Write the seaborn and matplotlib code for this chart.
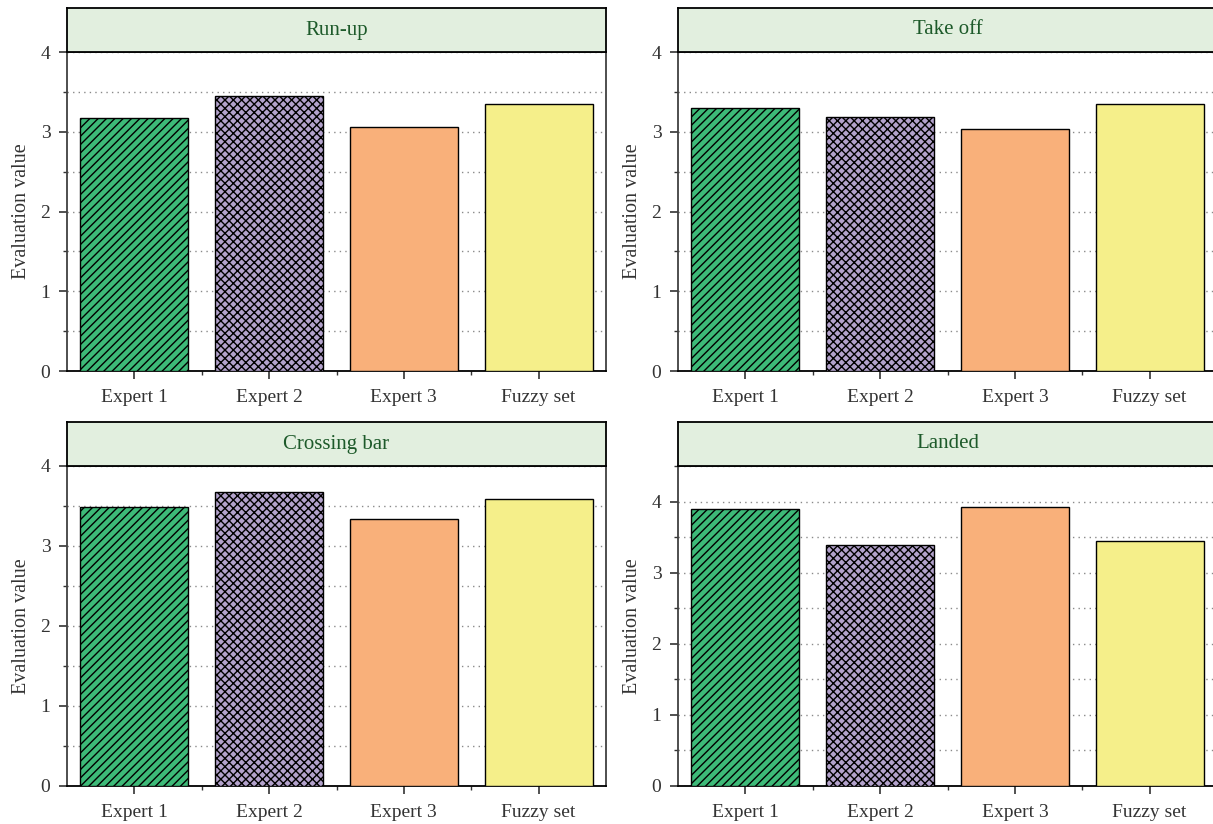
import matplotlib
matplotlib.use("Agg")
import matplotlib.pyplot as plt
from matplotlib.ticker import MultipleLocator, FixedLocator
import seaborn as sns
import pandas as pd

# Data
categories = ["Expert 1", "Expert 2", "Expert 3", "Fuzzy set"]
stage_titles = ["Run-up", "Take off", "Crossing bar", "Landed"]
run_up = [3.17, 3.45, 3.06, 3.35]
take_off = [3.30, 3.18, 3.03, 3.35]
crossing_bar = [3.49, 3.67, 3.34, 3.59]
landed = [3.89, 3.39, 3.93, 3.45]
y_limits = [4.0, 4.0, 4.0, 4.5]

palette = ["#3dba78", "#b3a2cc", "#f9b07a", "#f5ef8a"]
hatches = ["////", "xxxx", "", ""]

sns.set_theme(style="white")
plt.rcParams["font.family"] = ["Liberation Serif", "DejaVu Serif"]
plt.rcParams["hatch.linewidth"] = 1.0

W, H = 1213, 824
fig = plt.figure(figsize=(W / 100, H / 100), dpi=100)

# panel geometry in pixels: (left, header_top, axes_top, axes_bottom)
panels = [
    (67, 8, 52, 371),
    (678, 8, 52, 371),
    (67, 422, 466, 786),
    (678, 422, 466, 786),
]
panel_w = 539
series = [run_up, take_off, crossing_bar, landed]

for (left, htop, atop, abot), title, vals, ymax in zip(panels, stage_titles, series, y_limits):
    ax = fig.add_axes([left / W, 1 - abot / H, panel_w / W, (abot - atop) / H])
    df = pd.DataFrame({"category": categories, "value": vals})
    sns.barplot(data=df, x="category", y="value", hue="category", palette=palette,
                legend=False, width=0.8, edgecolor="black", linewidth=1.0,
                saturation=1, ax=ax, zorder=3)
    for patch, h in zip(ax.patches, hatches):
        patch.set_hatch(h)
    ax.set_xlim(-0.5, 3.5)
    ax.set_ylim(0, ymax)
    ax.yaxis.set_major_locator(FixedLocator([0, 1, 2, 3, 4]))
    ax.yaxis.set_minor_locator(MultipleLocator(0.5))
    ax.xaxis.set_minor_locator(FixedLocator([0.5, 1.5, 2.5]))
    ax.grid(True, which="both", axis="y", color="#8a8a8a", linestyle=(0, (1, 3)),
            linewidth=1.0, zorder=0)
    ax.set_axisbelow(True)
    ax.set_xlabel("")
    ax.set_ylabel("Evaluation value", fontsize=14.5, color="#333333", labelpad=7)
    ax.tick_params(axis="both", which="major", direction="out", length=6, width=1.2,
                   labelsize=14, colors="#333333", bottom=True, left=True)
    ax.tick_params(axis="both", which="minor", direction="out", length=3, width=1.0,
                   colors="#333333", bottom=True, left=True)
    ax.tick_params(axis="x", pad=7)
    ax.tick_params(axis="y", pad=6)
    for side in ["left", "right", "top"]:
        ax.spines[side].set_color("#404040")
        ax.spines[side].set_linewidth(1.3)
    ax.spines["bottom"].set_color("black")
    ax.spines["bottom"].set_linewidth(1.3)

    # header strip with the stage name
    hax = fig.add_axes([left / W, 1 - atop / H, panel_w / W, (atop - htop) / H])
    hax.set_facecolor("#e2efdf")
    hax.set_xticks([])
    hax.set_yticks([])
    for side in hax.spines.values():
        side.set_color("black")
        side.set_linewidth(1.3)
    hax.text(0.5, 0.5, title, ha="center", va="center", fontsize=15,
             color="#1d5a2a", transform=hax.transAxes)

fig.savefig("out.png", dpi=100)
